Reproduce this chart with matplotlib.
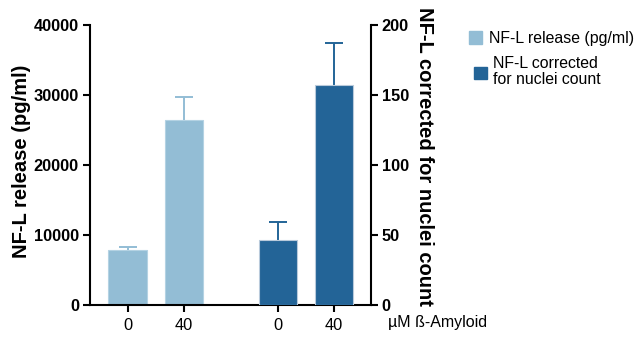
import matplotlib
matplotlib.use("Agg")
import matplotlib.pyplot as plt
from matplotlib.patches import Rectangle

plt.rcParams['font.family'] = ['Liberation Sans', 'DejaVu Sans']

# concentrations (uM beta-amyloid) and measured values
doses = ["0", "40"]
release = [7900, 26450]          # pg/ml, left axis
release_err = [450, 3300]
corrected = [46.5, 157]          # corrected for nuclei count, right axis
corrected_err = [13, 30.5]

light = "#93bdd5"
dark = "#236497"

W, H = 639, 340
fig = plt.figure(figsize=(W / 100, H / 100), dpi=100)
ax = fig.add_axes([90 / W, 35 / H, (370.7 - 90) / W, 280 / H])
ax2 = ax.twinx()

x_left = [0, 1]
x_right = [2.68, 3.68]
width = 0.68


def draw(axis, xs, vals, errs, color, edge):
    axis.bar(xs, vals, width=width, color=color, edgecolor=edge, linewidth=0.8, zorder=2)
    eb = axis.errorbar(xs, vals, yerr=[[0] * len(vals), errs], fmt="none",
                       ecolor=color, elinewidth=1.4, capsize=6.8, capthick=1.4, zorder=1)
    # keep only the upper half of the error bar
    eb[1][0].set_visible(False)


draw(ax, x_left, release, release_err, light, "#b4d2e3")
draw(ax2, x_right, corrected, corrected_err, dark, "#b9cadb")

ax.set_xlim(-0.67, 4.34)
ax.set_ylim(0, 40000)
ax2.set_ylim(0, 200)
ax.set_yticks([0, 10000, 20000, 30000, 40000])
ax2.set_yticks([0, 50, 100, 150, 200])
ax.set_xticks(x_left + x_right)
ax.set_xticklabels(doses + doses)

for a in (ax, ax2):
    a.spines["top"].set_visible(False)
    for s in a.spines.values():
        s.set_linewidth(1.5)
    a.tick_params(axis="both", direction="out", length=5, width=1.5)
ax.spines["right"].set_visible(False)
ax2.spines["left"].set_visible(False)
ax2.spines["bottom"].set_visible(False)

ax.tick_params(axis="x", labelsize=11.8, pad=4)
ax.tick_params(axis="y", labelsize=11.8, pad=3)
ax2.tick_params(axis="y", labelsize=11.8, pad=3)
for lbl in ax.get_yticklabels() + ax2.get_yticklabels():
    lbl.set_fontweight("bold")

ax.set_ylabel("NF-L release (pg/ml)", fontsize=14.5, fontweight="bold", labelpad=2)
ax2.set_ylabel("NF-L corrected for nuclei count", fontsize=14.5, fontweight="bold",
               rotation=270, va="bottom", labelpad=4)
ax.yaxis.label.set_y(0.514)
ax2.yaxis.label.set_y(0.53)

fig.text(388 / W, 1 - 323 / H, "\u00b5M \u00df-Amyloid", fontsize=11.5, va="center", ha="left")

# legend drawn by hand
fig.add_artist(Rectangle((469 / W, 1 - 44 / H), 13 / W, 13 / H, color=light,
                         transform=fig.transFigure))
fig.text(489 / W, 1 - 38 / H, "NF-L release (pg/ml)", fontsize=11.4, va="center")
fig.add_artist(Rectangle((474 / W, 1 - 79 / H), 13 / W, 12 / H, color=dark,
                         transform=fig.transFigure))
fig.text(493 / W, 1 - 71.5 / H, "NF-L corrected\nfor nuclei count", fontsize=11.4,
         va="center", linespacing=1.0)

fig.savefig("out.png", dpi=100)
